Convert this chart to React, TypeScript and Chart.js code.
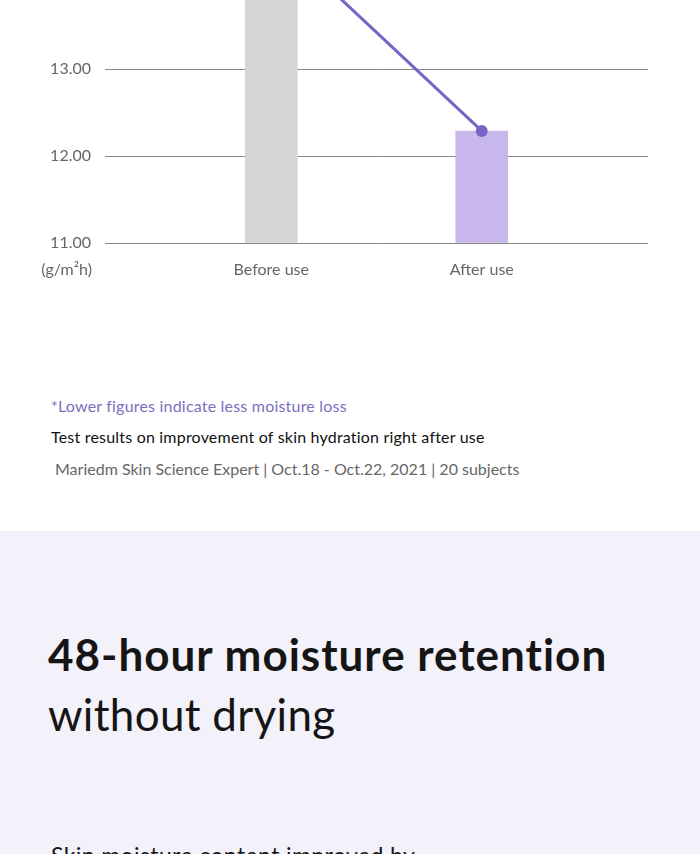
import React, { useEffect, useRef } from "react";
import { Chart, registerables } from "chart.js";

Chart.register(...registerables);

const categories = ["Before use", "After use"];
const values = [14.56, 12.29];
const barColors = ["#d5d5d5", "#c8b7ea"];
const yTickValues = [11, 12, 13, 14, 15];
const unitLabel = "(g/m²h)";
const noteLines = [
  "*Lower figures indicate less moisture loss",
  "Test results on improvement of skin hydration right after use",
  "Mariedm Skin Science Expert | Oct.18 - Oct.22, 2021 | 20 subjects",
];
const headingBold = "48-hour moisture retention";
const headingRegular = "without drying";
const nextLine = "Skin moisture content improved by";

const FONT = "Lato, 'Noto Sans', sans-serif";

export default function App() {
  const ref = useRef<HTMLCanvasElement>(null);

  useEffect(() => {
    document.body.style.margin = "0";
    const positions = categories.map((_, i) => i + 1);
    const chart = new Chart(ref.current as HTMLCanvasElement, {
      type: "bar",
      data: {
        datasets: [
          {
            type: "line",
            data: positions.map((x, i) => ({ x, y: values[i] })),
            borderColor: "#7765c6",
            borderWidth: 3,
            pointRadius: [0, 6],
            pointBackgroundColor: "#7765c6",
            pointBorderWidth: 0,
            order: 0,
          } as any,
          {
            type: "bar",
            data: positions.map((x, i) => ({ x, y: values[i] })),
            backgroundColor: barColors,
            barThickness: 52,
            base: 11,
            order: 1,
          } as any,
        ],
      },
      options: {
        animation: false,
        responsive: false,
        maintainAspectRatio: false,
        layout: { padding: { top: 15, right: 52, left: 0, bottom: 0 } },
        plugins: { legend: { display: false }, tooltip: { enabled: false } },
        scales: {
          x: {
            type: "linear",
            offset: false,
            bounds: "data",
            min: 0.21,
            max: 2.79,
            grid: { display: false, offset: false },
            border: { display: false },
            afterDataLimits: (s: any) => {
              s.min = 0.21;
              s.max = 2.79;
            },
            afterBuildTicks: (s: any) => {
              s.ticks = positions.map((v) => ({ value: v }));
            },
            afterFit: (s: any) => {
              s.height = 50;
            },
            ticks: {
              callback: (v: any) => categories[Number(v) - 1],
              padding: 9,
              color: "#666",
              font: { size: 16, family: FONT },
              autoSkip: false,
              maxRotation: 0,
            },
          },
          y: {
            min: 11,
            max: 15,
            grid: { color: "#888", lineWidth: 1, drawTicks: false },
            border: { display: false },
            afterBuildTicks: (s: any) => {
              s.ticks = yTickValues.map((v) => ({ value: v }));
            },
            afterFit: (s: any) => {
              s.width = 105;
            },
            ticks: {
              callback: (v: any) => Number(v).toFixed(2),
              padding: 14,
              color: "#666",
              font: { size: 16, family: FONT },
            },
          },
        },
      } as any,
    });
    return () => chart.destroy();
  }, []);

  const abs = (top: number, left: number, extra: React.CSSProperties = {}): React.CSSProperties => ({
    position: "absolute",
    top,
    left,
    whiteSpace: "nowrap",
    fontFamily: FONT,
    fontVariantLigatures: "none",
    ...extra,
  });

  return (
    <div style={{ position: "relative", width: 700, height: 854, overflow: "hidden", background: "#fff" }}>
      <canvas
        ref={ref}
        width={700}
        height={421}
        style={{ position: "absolute", top: -128, left: 0, width: 700, height: 421 }}
      />
      <div style={abs(259, 0, { width: 92, textAlign: "right", fontSize: 16, lineHeight: "20px", color: "#666" })}>
        {unitLabel}
      </div>
      <div style={abs(396, 51, { fontSize: 16, lineHeight: "20px", color: "#7b6fc0", letterSpacing: "0.2px" })}>
        {noteLines[0]}
      </div>
      <div style={abs(427, 51, { fontSize: 16, lineHeight: "20px", color: "#111", letterSpacing: "0.2px" })}>
        {noteLines[1]}
      </div>
      <div style={abs(459, 55, { fontSize: 16, lineHeight: "20px", color: "#666" })}>{noteLines[2]}</div>
      <div style={{ position: "absolute", top: 531, left: 0, width: 700, height: 400, background: "#f3f1f9" }} />
      <div style={abs(624, 48, { fontSize: 44, lineHeight: "60px", color: "#151515" })}>
        <div style={{ fontWeight: 700, letterSpacing: "1px" }}>{headingBold}</div>
        <div style={{ fontWeight: 400, letterSpacing: "0.3px" }}>{headingRegular}</div>
      </div>
      <div style={abs(840, 51, { fontSize: 23, lineHeight: "30px", color: "#151515", letterSpacing: "0.4px" })}>
        {nextLine}
      </div>
    </div>
  );
}
